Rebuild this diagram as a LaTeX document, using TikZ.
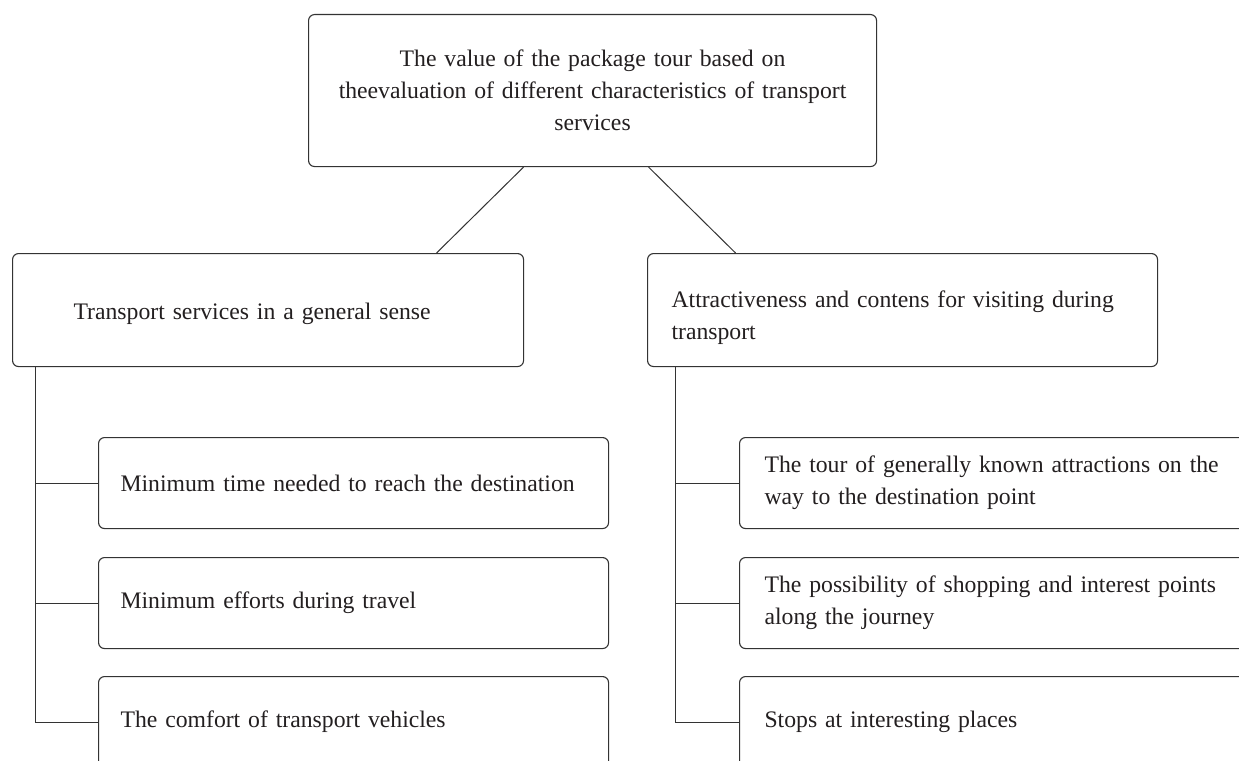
\documentclass[tikz,border=0pt]{standalone}
\usepackage{fontspec}
\setmainfont{Liberation Serif}
\usetikzlibrary{calc}
\definecolor{linec}{HTML}{333333}
\definecolor{textc}{HTML}{231F20}
\newcommand{\boxfont}{\fontsize{23.7}{32}\selectfont\hyphenpenalty=10000\exhyphenpenalty=10000}
\newcommand{\ind}[1]{\hspace*{#1pt}}
\newcommand{\tallr}[1]{\rule{0pt}{#1pt}}
\tikzset{
  box/.style={draw=linec, line width=1.1pt, rounded corners=6pt, anchor=north west,
    font=\boxfont, text=textc, align=left, inner ysep=0pt, inner xsep=0pt},
  conn/.style={draw=linec, line width=1pt}
}
\begin{document}
\begin{tikzpicture}[x=1pt,y=-1pt]
\useasboundingbox (0,0) rectangle (1239,760);
\clip (0,0) rectangle (1239,760);
\fill[white] (0,0) rectangle (1239,760);
% top
\node[box, align=center, text width=548pt, inner xsep=10pt, minimum height=152pt] (top) at (308,14)
  {The value of the package tour based on\\theevaluation of different characteristics of transport\\services};
% middle
\node[box, text width=511pt, minimum height=113pt] (lmid) at (12,253)
  {\ind{61}\tallr{25}Transport services in a general sense};
\node[box, text width=510pt, minimum height=113pt] (rmid) at (647,253)
  {\ind{24}\tallr{31}Attractiveness and contens for visiting during\\\ind{24}transport};
% left children
\node[box, text width=510pt, minimum height=91pt] (l1) at (98,437)
  {\ind{22}Minimum time needed to reach the destination};
\node[box, text width=510pt, minimum height=91pt] (l2) at (98,557)
  {\ind{22}Minimum efforts during travel};
\node[box, text width=510pt, minimum height=91pt] (l3) at (98,676)
  {\ind{22}The comfort of transport vehicles};
% right children
\node[box, text width=510pt, minimum height=91pt] (r1) at (739,437)
  {\ind{25}The tour of generally known attractions on the\\\ind{25}way to the destination point};
\node[box, text width=510pt, minimum height=91pt] (r2) at (739,557)
  {\ind{25}The possibility of shopping and interest points\\\ind{25}along the journey};
\node[box, text width=510pt, minimum height=91pt] (r3) at (739,676)
  {\ind{25}Stops at interesting places};
% connectors
\draw[conn] ([xshift=-69pt]top.south) -- ([xshift=168.5pt]lmid.north);
\draw[conn] ([xshift=56pt]top.south) -- ([xshift=-167pt]rmid.north);
\coordinate (lt) at ([xshift=23.7pt]lmid.south west);
\coordinate (rt) at ([xshift=28pt]rmid.south west);
\draw[conn] (lt) |- (l3.west);
\draw[conn] (lt |- l1.west) -- (l1.west);
\draw[conn] (lt |- l2.west) -- (l2.west);
\draw[conn] (rt) |- (r3.west);
\draw[conn] (rt |- r1.west) -- (r1.west);
\draw[conn] (rt |- r2.west) -- (r2.west);
\end{tikzpicture}
\end{document}
